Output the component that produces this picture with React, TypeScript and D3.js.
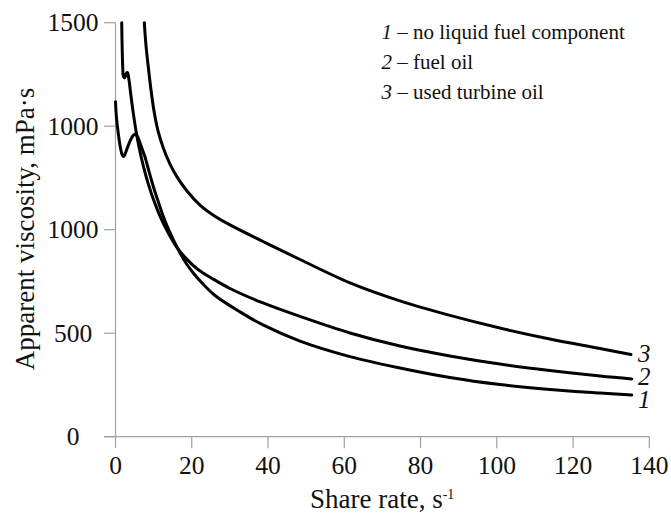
import React from "react";
import * as d3 from "d3";

const xTicks = [0, 20, 40, 60, 80, 100, 120, 140];
const yTickValues = [0, 500, 1000, 1500, 2000];
const yTickLabels = ["0", "500", "1000", "1000", "1500"];

const curve1: [number, number][] = [
  [0, 1618], [0.26, 1540], [0.79, 1457], [1.31, 1395], [1.78, 1361], [2.15, 1354],
  [2.62, 1371], [3.28, 1404], [4.07, 1438], [4.72, 1457], [5.25, 1461], [5.77, 1450],
  [6.43, 1419], [7.08, 1385], [7.74, 1351], [8.79, 1281], [9.91, 1209], [11.15, 1139],
  [12.54, 1064], [14.29, 986], [16.05, 919], [17.97, 854], [20.4, 791], [23.21, 733],
  [26.1, 682], [32.65, 603], [38.68, 540], [48.39, 462], [61.5, 387], [74.6, 332],
  [87.7, 286], [100.8, 252], [113.9, 228], [127.1, 211], [135.4, 201],
];

const curve2: [number, number][] = [
  [1.63, 2000], [1.76, 1868], [1.91, 1781], [2.12, 1738], [2.44, 1735], [2.83, 1755],
  [3.15, 1759], [3.54, 1723], [3.93, 1665], [4.33, 1607], [4.85, 1540], [5.38, 1477],
  [6.16, 1400], [7.29, 1308], [8.52, 1226], [9.91, 1148], [11.67, 1066], [13.85, 984],
  [15.87, 921], [18.67, 858], [21.64, 808], [25.57, 762], [30.03, 716], [38.68, 646],
  [48.39, 581], [61.5, 501], [74.6, 438], [87.7, 390], [100.8, 351], [113.9, 320],
  [127.1, 293], [135.4, 279],
];

const curve3: [number, number][] = [
  [7.55, 2000], [8.0, 1889], [8.6, 1786], [9.31, 1675], [10.1, 1573], [11.15, 1477],
  [12.54, 1395], [14.29, 1317], [16.13, 1255], [18.75, 1187], [22.16, 1119], [25.57, 1071],
  [30.03, 1023], [38.68, 943], [48.39, 856], [61.5, 743], [74.6, 656], [87.7, 586],
  [100.8, 525], [113.9, 472], [127.1, 426], [135.2, 397],
];

const seriesNames = ["no liquid fuel component", "fuel oil", "used turbine oil"];
const seriesIds = ["1", "2", "3"];

export default function App() {
  const W = 671, H = 513;
  const x = d3.scaleLinear().domain([0, 140]).range([115.5, 649.3]);
  const y = d3.scaleLinear().domain([0, 2000]).range([436.7, 22.7]);
  const line = d3
    .line<[number, number]>()
    .x((d) => x(d[0]))
    .y((d) => y(d[1]))
    .curve(d3.curveCatmullRom.alpha(0.5));
  const curves = [curve1, curve2, curve3];
  const font = '"Liberation Serif", "Times New Roman", Times, serif';
  const axisColor = "#a0a0a0";
  const labelY = [408, 385, 362];
  const txt = "#111";

  return (
    <svg
      width={W}
      height={H}
      style={{ position: "absolute", left: 0, top: 0, background: "#fff", fontFamily: font }}
    >
      {/* axes */}
      <line x1={x(0)} y1={y(0)} x2={x(0)} y2={y(2000)} stroke={axisColor} strokeWidth={1.2} />
      <line x1={104} y1={y(0)} x2={x(140)} y2={y(0)} stroke={axisColor} strokeWidth={1.2} />
      {xTicks.map((t) => (
        <g key={"xt" + t}>
          <line x1={x(t)} x2={x(t)} y1={y(0)} y2={y(0) + 11.5} stroke={axisColor} strokeWidth={1.2} />
          <text x={x(t)} y={474} textAnchor="middle" fontSize={25.5} fill={txt} style={{ fontFamily: font }}>
            {t}
          </text>
        </g>
      ))}
      {yTickValues.map((v, i) => (
        <g key={"yt" + i}>
          <line x1={104} x2={x(0)} y1={y(v)} y2={y(v)} stroke={axisColor} strokeWidth={1.2} />
          <text x={73} y={y(v) + 8.4} textAnchor="middle" fontSize={25.5} fill={txt} style={{ fontFamily: font }}>
            {yTickLabels[i]}
          </text>
        </g>
      ))}
      {/* axis titles */}
      <text x={310} y={508} textAnchor="start" fontSize={27} fill={txt} style={{ fontFamily: font }}>
        Share rate, s<tspan dy={-9} fontSize={14}>-1</tspan>
      </text>
      <text
        transform={`translate(34, 229) rotate(-90)`}
        textAnchor="middle"
        fontSize={27}
        fill={txt}
        style={{ fontFamily: font }}
      >
        Apparent viscosity, mPa·s
      </text>
      {/* curves */}
      {curves.map((c, i) => (
        <path
          key={"c" + i}
          d={line(c) || ""}
          fill="none"
          stroke="#000"
          strokeWidth={3}
          strokeLinejoin="round"
          strokeLinecap="round"
        />
      ))}
      {curves.map((c, i) => (
        <text
          key={"cl" + i}
          x={638}
          y={labelY[i]}
          fontSize={25}
          fontStyle="italic"
          fill={txt}
          style={{ fontFamily: font }}
        >
          {seriesIds[i]}
        </text>
      ))}
      {/* legend */}
      {seriesNames.map((n, i) => (
        <text key={"lg" + i} x={381.5} y={38.5 + i * 30} fontSize={21} fill={txt} style={{ fontFamily: font }}>
          <tspan fontStyle="italic">{seriesIds[i]}</tspan>
          {" – " + n}
        </text>
      ))}
    </svg>
  );
}
